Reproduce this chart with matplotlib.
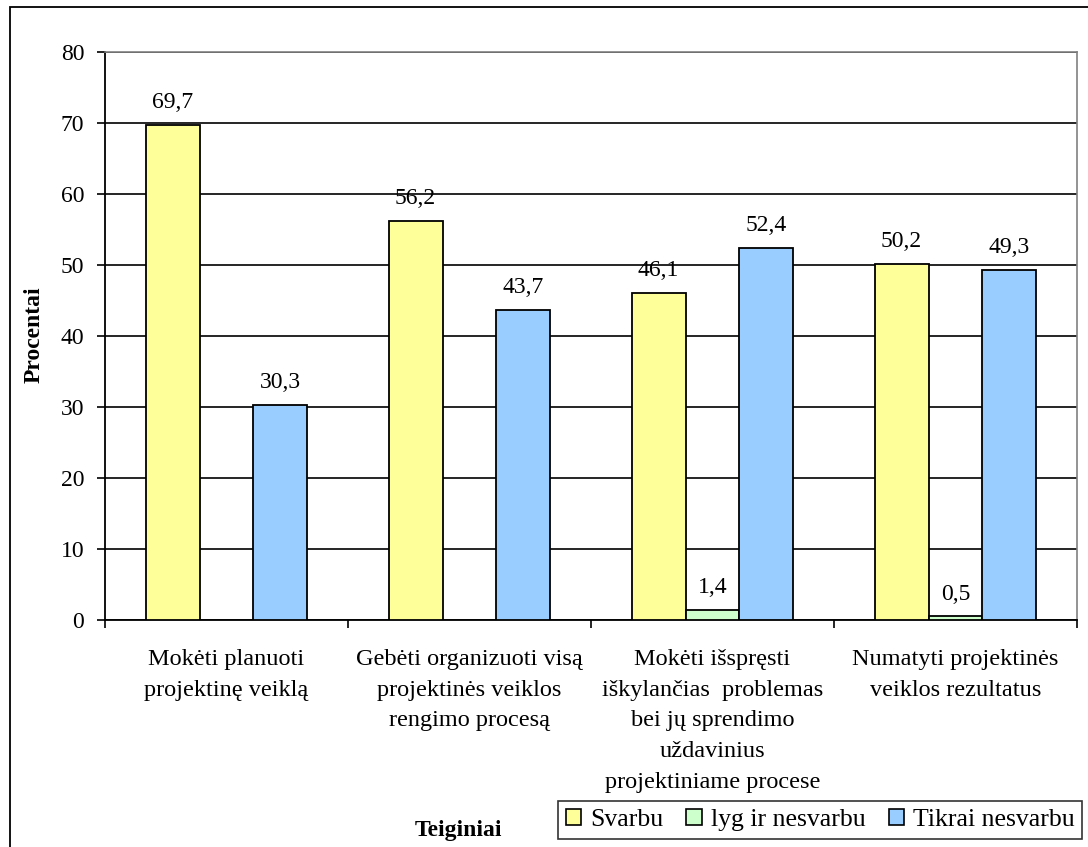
import numpy as np
import matplotlib
matplotlib.use("Agg")
import matplotlib.pyplot as plt
from matplotlib.patches import Rectangle

plt.rcParams['font.family'] = ['Liberation Serif', 'DejaVu Serif']

categories = [
    "Mokėti planuoti\nprojektinę veiklą",
    "Gebėti organizuoti visą\nprojektinės veiklos\nrengimo procesą",
    "Mokėti išspręsti\niškylančias  problemas\nbei jų sprendimo\nuždavinius\nprojektiniame procese",
    "Numatyti projektinės\nveiklos rezultatus",
]
series_names = ["Svarbu", "lyg ir nesvarbu", "Tikrai nesvarbu"]
svarbu = [69.7, 56.2, 46.1, 50.2]
lyg_ir_nesvarbu = [0.0, 0.0, 1.4, 0.5]
tikrai_nesvarbu = [30.3, 43.7, 52.4, 49.3]
colors = ["#FFFF99", "#CCFFCC", "#99CCFF"]

FS = 17

fig = plt.figure(figsize=(10.88, 8.47), dpi=100)
ax = fig.add_axes([105 / 1088, 1 - 620 / 847, (1077 - 105) / 1088, (620 - 52) / 847])

x = np.arange(len(categories))
w = 0.222
handles = []
for i, (vals, c, name) in enumerate(zip([svarbu, lyg_ir_nesvarbu, tikrai_nesvarbu], colors, series_names)):
    pos = x + (i - 1) * w
    keep = [j for j, v in enumerate(vals) if v > 0]
    ax.bar(pos[keep], [vals[j] for j in keep], width=w, color=c,
           edgecolor="black", linewidth=1.3, zorder=3)
    for j in keep:
        ax.annotate(f"{vals[j]:.1f}".replace(".", ","), (pos[j], vals[j]),
                    xytext=(0, 12), textcoords="offset points",
                    ha="center", va="baseline", fontsize=FS)
    handles.append(Rectangle((0, 0), 1, 1, facecolor=c, edgecolor="black", linewidth=1.2))

ax.set_xlim(-0.5, len(categories) - 0.5)
ax.set_ylim(0, 80)
ax.set_yticks(range(0, 81, 10))
ax.yaxis.grid(True, color="black", linewidth=1.2, zorder=0)
ax.set_axisbelow(True)
ax.tick_params(axis="y", labelsize=FS, length=6, width=1.2, direction="out", pad=9)

ax.set_xticks(x)
ax.set_xticklabels(categories, fontsize=17.5, linespacing=1.6, va="top")
ax.set_xticks(np.arange(-0.5, len(categories)), minor=True)
ax.tick_params(axis="x", which="major", length=0, pad=21)
ax.tick_params(axis="x", which="minor", length=6, width=1.2, direction="out")

for side in ["top", "right"]:
    ax.spines[side].set_color("#808080")
    ax.spines[side].set_linewidth(1.2)
for side in ["left", "bottom"]:
    ax.spines[side].set_color("black")
    ax.spines[side].set_linewidth(1.3)

fig.text(34 / 1088, 1 - 335 / 847, "Procentai", rotation=90, ha="center", va="center",
         fontsize=FS, fontweight="bold")
fig.text(458 / 1088, 1 - 830 / 847, "Teiginiai", ha="center", va="center",
         fontsize=FS, fontweight="bold")

leg = fig.legend(handles, series_names, loc="upper left",
                 bbox_to_anchor=(558 / 1088, 1 - 801 / 847), ncol=3, fontsize=18.5,
                 handlelength=0.6, handleheight=0.6, handletextpad=0.35,
                 columnspacing=0.9, borderpad=0.3, fancybox=False, borderaxespad=0)
leg.get_frame().set_edgecolor("black")
leg.get_frame().set_linewidth(1.2)

# outer chart border, open at the right and bottom edges
fig.patches.append(Rectangle((10 / 1088, -0.05), 1.1, 1 - 7 / 847 + 0.05,
                             transform=fig.transFigure, fill=False,
                             edgecolor="black", linewidth=1.3))

fig.savefig("out.png", dpi=100)
